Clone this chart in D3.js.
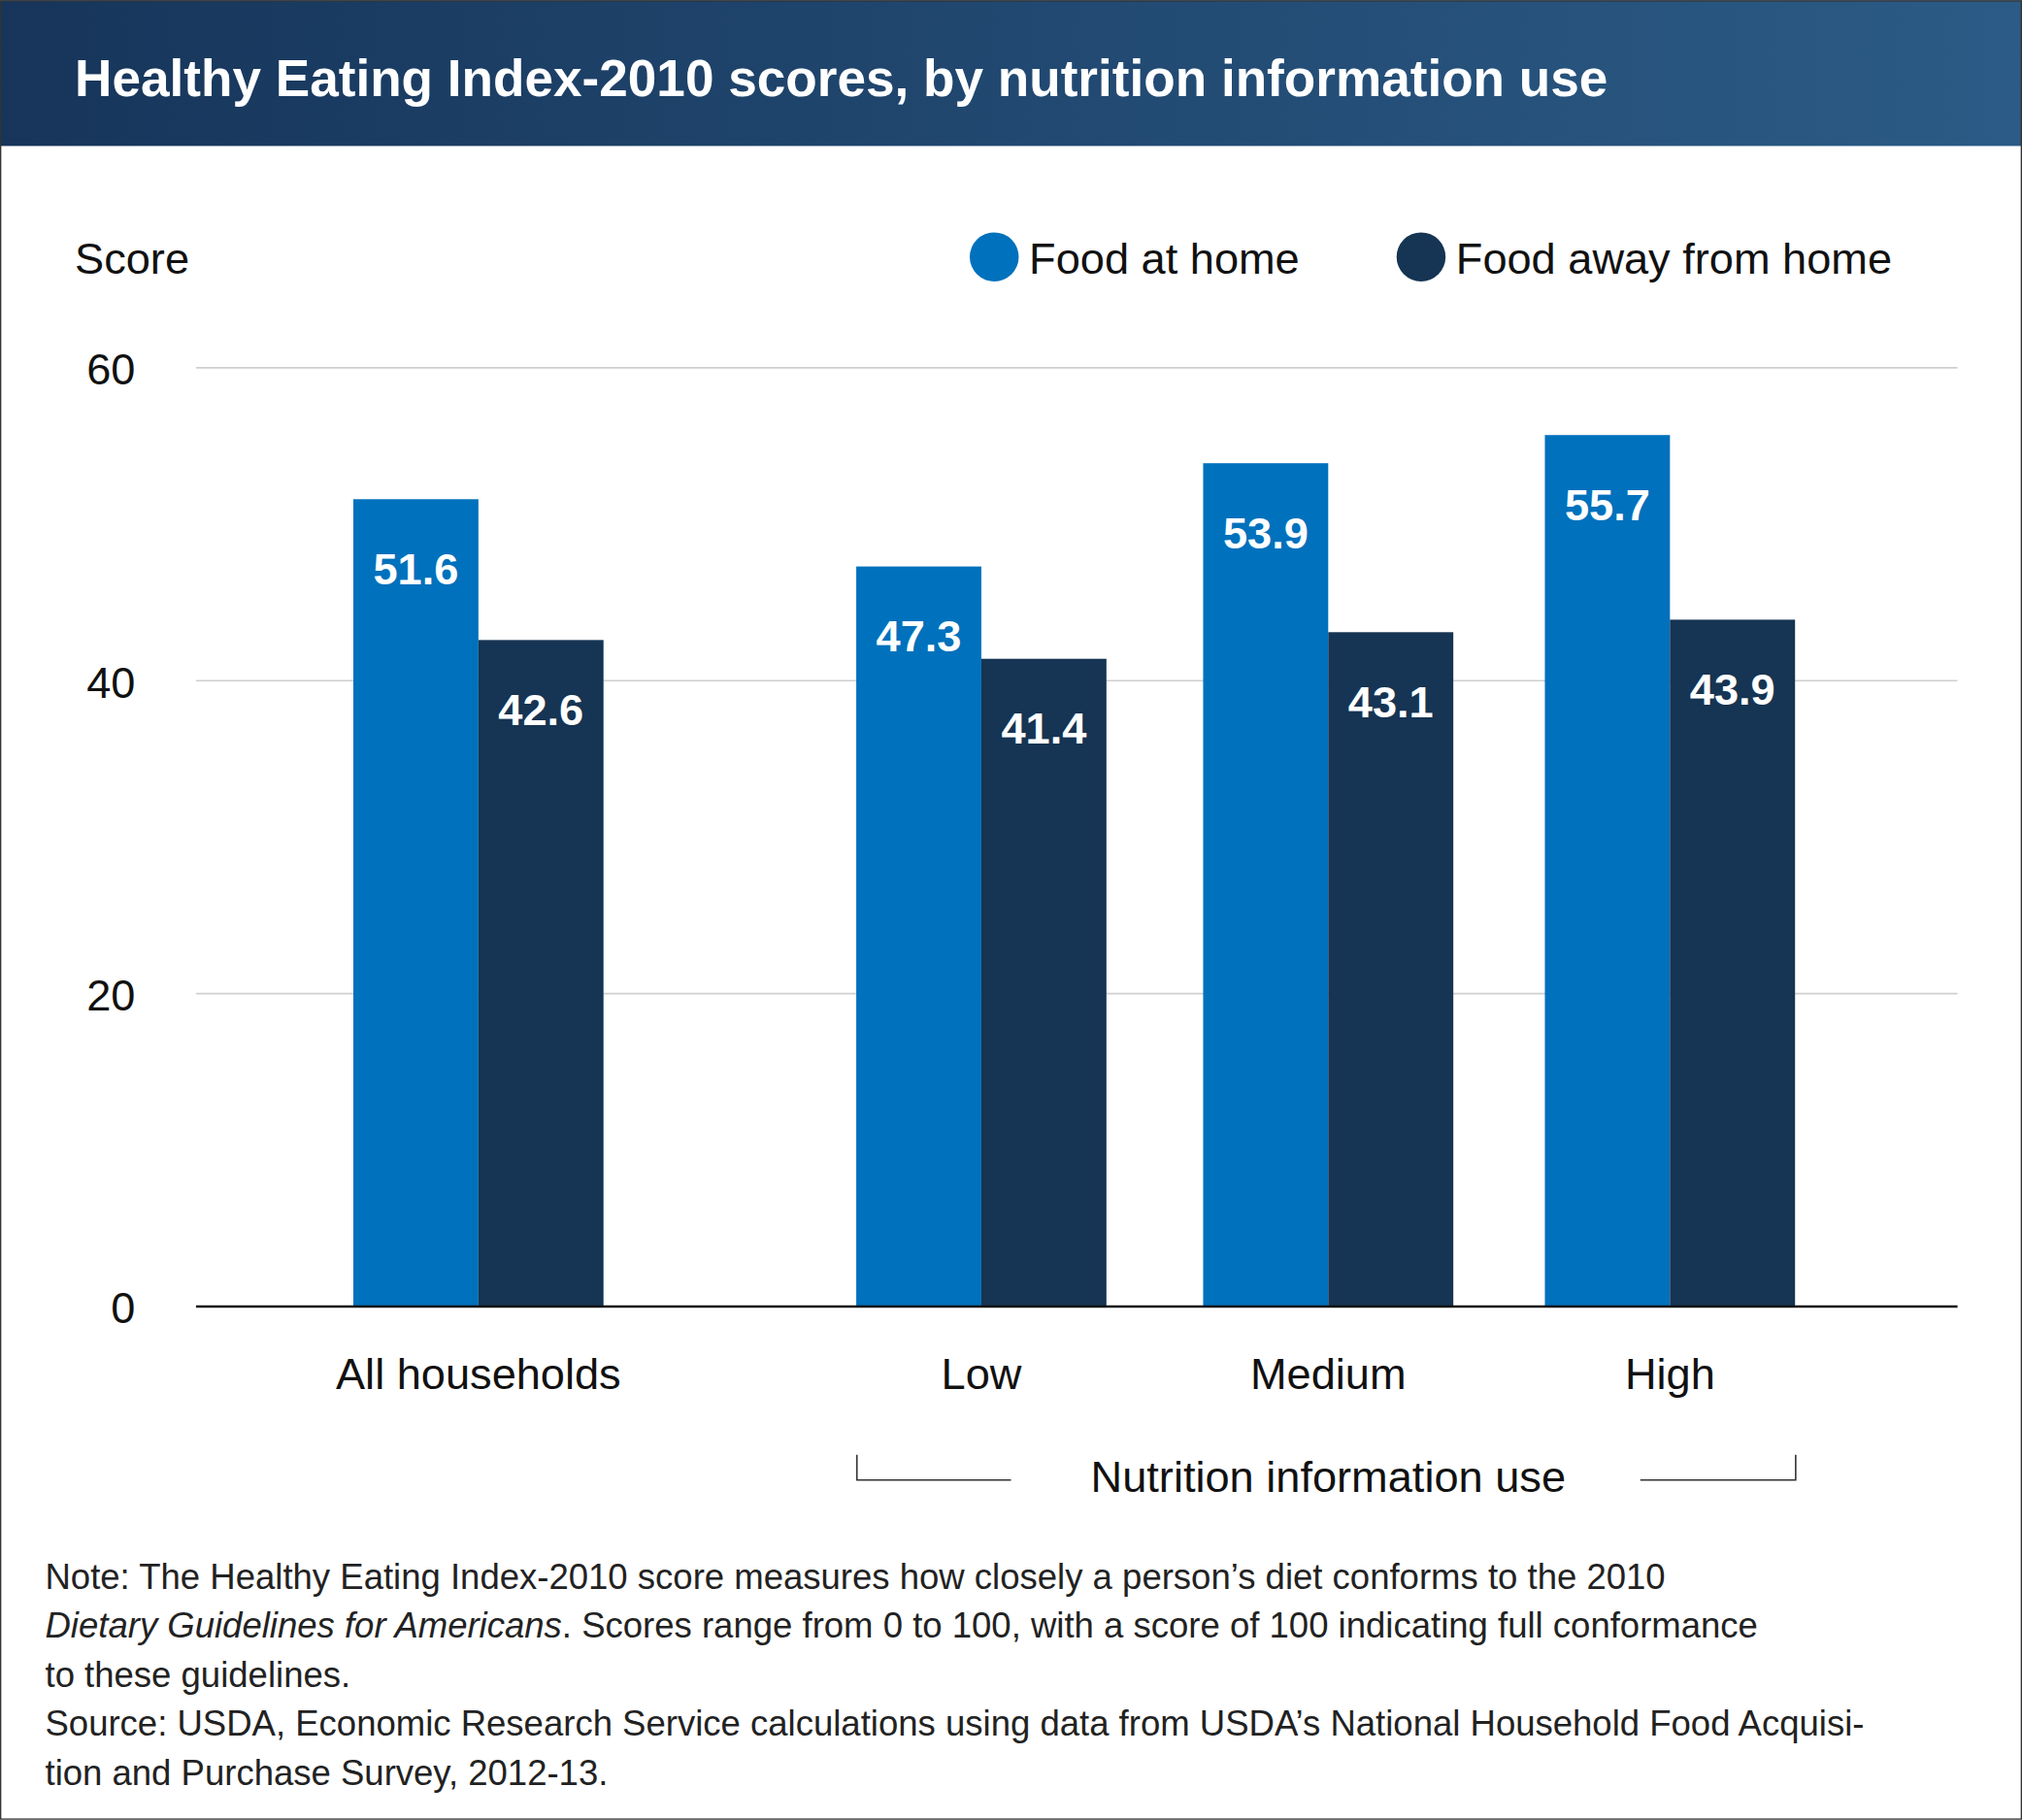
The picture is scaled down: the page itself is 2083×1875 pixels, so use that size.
<!DOCTYPE html>
<html>
<head>
<meta charset="utf-8">
<script src="https://cdn.jsdelivr.net/npm/d3@7"></script>
<style>
  body { margin: 0; background: #fff; }
  svg { display: block; font-family: "Liberation Sans", Arial, sans-serif; }
</style>
</head>
<body>
<svg id="chart" width="2083" height="1875" viewBox="0 0 1568 1411"></svg>
<script>
// données
const categories = ['All households', 'Low', 'Medium', 'High'];
const atHome = [51.6, 47.3, 53.9, 55.7];
const awayFromHome = [42.6, 41.4, 43.1, 43.9];
const yTicks = [0, 20, 40, 60];
const seriesNames = ['Food at home', 'Food away from home'];
const colors = ['#0071bc', '#163453'];

const svg = d3.select('#chart');

// en-tête
const grad = svg.append('defs').append('linearGradient').attr('id', 'hdr');
grad.append('stop').attr('offset', '0%').attr('stop-color', '#17355a');
grad.append('stop').attr('offset', '100%').attr('stop-color', '#2b5b86');
svg.append('rect').attr('width', 1568).attr('height', 113).attr('fill', 'url(#hdr)');
svg.append('rect').attr('x', 0.5).attr('y', 0.5).attr('width', 1567).attr('height', 1410)
  .attr('fill', 'none').attr('stroke', '#333').attr('stroke-width', 1);
svg.append('text').attr('x', 58).attr('y', 74).attr('fill', '#fff')
  .attr('font-size', 40).attr('font-weight', 'bold')
  .text('Healthy Eating Index-2010 scores, by nutrition information use');

// échelles
const y = d3.scaleLinear().domain([0, 60]).range([1013, 285]);
const xCenter = d3.scaleOrdinal().domain(categories).range([371, 761, 1030, 1295]);
const xSeries = d3.scaleBand().domain([0, 1]).range([-97, 97]);

// grille
svg.append('g').selectAll('line').data(yTicks.filter(d => d > 0)).enter().append('line')
  .attr('x1', 152).attr('x2', 1518)
  .attr('y1', d => y(d)).attr('y2', d => y(d))
  .attr('stroke', '#cfcfcf').attr('stroke-width', 1.2);

svg.append('g').selectAll('text').data(yTicks).enter().append('text')
  .attr('x', 105).attr('y', d => y(d) + 13)
  .attr('text-anchor', 'end').attr('font-size', 34).attr('fill', '#111')
  .text(d => d);

svg.append('text').attr('x', 58).attr('y', 212).attr('font-size', 34).attr('fill', '#111').text('Score');

// barres
const series = [atHome, awayFromHome];
series.forEach((vals, s) => {
  const g = svg.append('g');
  g.selectAll('rect').data(vals).enter().append('rect')
    .attr('x', (d, i) => xCenter(categories[i]) + xSeries(s))
    .attr('width', xSeries.bandwidth())
    .attr('y', d => y(d))
    .attr('height', d => y(0) - y(d))
    .attr('fill', colors[s]);
  g.selectAll('text').data(vals).enter().append('text')
    .attr('x', (d, i) => xCenter(categories[i]) + xSeries(s) + xSeries.bandwidth() / 2)
    .attr('y', d => y(d) + 66)
    .attr('text-anchor', 'middle').attr('fill', '#fff')
    .attr('font-size', 34).attr('font-weight', 'bold')
    .attr('font-family', '"Liberation Sans Narrow", "Arial Narrow", sans-serif')
    .text(d => d.toFixed(1));
});

svg.append('line').attr('x1', 152).attr('x2', 1518).attr('y1', y(0)).attr('y2', y(0))
  .attr('stroke', '#111').attr('stroke-width', 2);

// étiquettes de catégories
svg.append('g').selectAll('text').data(categories).enter().append('text')
  .attr('x', d => xCenter(d)).attr('y', 1077)
  .attr('text-anchor', 'middle').attr('font-size', 34).attr('fill', '#111')
  .text(d => d);

// accolade "Nutrition information use"
svg.append('path')
  .attr('d', 'M664.5,1128 V1147.5 H784 M1272,1147.5 H1392.5 V1128')
  .attr('fill', 'none').attr('stroke', '#333').attr('stroke-width', 1.2);
svg.append('text').attr('x', 1030).attr('y', 1157).attr('text-anchor', 'middle')
  .attr('font-size', 34).attr('fill', '#111').text('Nutrition information use');

// légende
const leg = svg.append('g').selectAll('g').data(seriesNames).enter().append('g')
  .attr('transform', (d, i) => `translate(${[771, 1102][i]},199)`);
leg.append('circle').attr('r', 19).attr('fill', (d, i) => colors[i]);
leg.append('text').attr('x', 27).attr('y', 13).attr('font-size', 34).attr('fill', '#111').text(d => d);

// note et source
const note = svg.append('text').attr('font-size', 27.5).attr('fill', '#222');
const lines = [
  [['Note: The Healthy Eating Index-2010 score measures how closely a person\u2019s diet conforms to the 2010', false]],
  [['Dietary Guidelines for Americans', true], ['. Scores range from 0 to 100, with a score of 100 indicating full conformance', false]],
  [['to these guidelines.', false]],
  [['Source: USDA, Economic Research Service calculations using data from USDA\u2019s National Household Food Acquisi-', false]],
  [['tion and Purchase Survey, 2012-13.', false]]
];
lines.forEach((parts, i) => {
  parts.forEach((p, j) => {
    const t = note.append('tspan').text(p[0]).attr('font-style', p[1] ? 'italic' : null);
    if (j === 0) t.attr('x', 35).attr('y', 1232 + i * 38);
  });
});
</script>
</body>
</html>
